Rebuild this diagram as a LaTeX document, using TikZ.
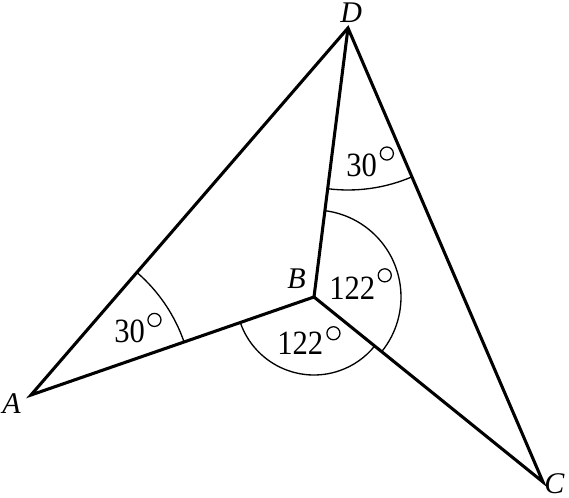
\documentclass[tikz,border=0pt]{standalone}
\usepackage{fontspec}
\usepackage{graphicx}
\setmainfont{Liberation Serif}
\usetikzlibrary{angles}
\newcommand{\numtxt}[1]{\scalebox{0.9}[1]{#1}}
\begin{document}
\begin{tikzpicture}[x=0.75pt,y=-0.75pt,
  edge/.style={line width=2.3pt,line join=miter},
  arcline/.style={line width=1pt},
  lbl/.style={inner sep=0pt,text depth=0pt,font=\fontsize{25.5}{28}\selectfont},
  vlbl/.style={inner sep=0pt,text depth=0pt,font=\fontsize{22.5}{26}\selectfont\itshape},
  deg/.style={line width=0.95pt}]
\useasboundingbox (0,0) rectangle (569,498);
\coordinate (A) at (31,395);
\coordinate (B) at (314,297);
\coordinate (C) at (543,482);
\coordinate (D) at (348,28);
\draw[edge] (A) -- (D) -- (C) -- (B) -- cycle;
\draw[edge] (B) -- (D);
\pic[draw,arcline,angle radius=121.5pt] {angle=B--A--D};
\pic[draw,arcline,angle radius=121.5pt] {angle=B--D--C};
\pic[draw,arcline,angle radius=65.25pt] {angle=C--B--D};
\pic[draw,arcline,angle radius=58.5pt] {angle=A--B--C};
\node[vlbl,anchor=base west] (lA) at (2,414) {A};
\node[vlbl,anchor=base west] (lB) at (287,289) {B};
\node[vlbl,anchor=base west] (lC) at (544,494) {C};
\node[vlbl,anchor=base west] (lD) at (340,23) {D};
\node[lbl,anchor=base west] (a1) at (114,343) {\numtxt{30}};
\node[lbl,anchor=base west] (a2) at (346,177) {\numtxt{30}};
\node[lbl,anchor=base west] (a3) at (329,300) {\numtxt{122}};
\node[lbl,anchor=base west] (a4) at (277,355) {\numtxt{122}};
\draw[deg] ([xshift=7pt,yshift=17.3pt]a1.base east) circle (4.9pt);
\draw[deg] ([xshift=7.3pt,yshift=17.6pt]a2.base east) circle (4.9pt);
\draw[deg] ([xshift=7pt,yshift=18.5pt]a3.base east) circle (4.9pt);
\draw[deg] ([xshift=7.5pt,yshift=16.3pt]a4.base east) circle (4.9pt);
\end{tikzpicture}
\end{document}
